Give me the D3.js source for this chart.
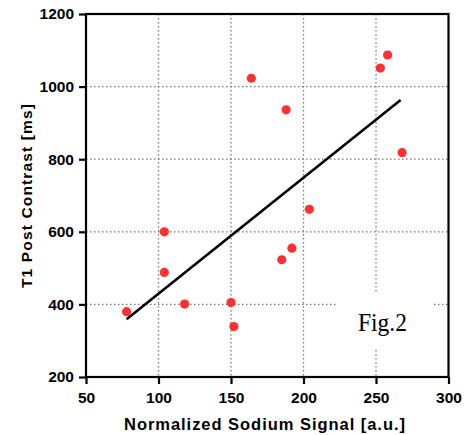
<!DOCTYPE html>
<html>
<head>
<meta charset="utf-8">
<script src="https://cdn.jsdelivr.net/npm/d3@7"></script>
<style>
  body { margin: 0; background: #fff; }
  svg { display: block; }
</style>
</head>
<body>
<div id="chart"></div>
<script>
// sodium signal vs T1 post contrast
const sodium = [78, 104, 104, 118, 150, 152, 164, 185, 188, 192, 204, 253, 258, 268];
const t1 = [380, 600, 488, 401, 405, 339, 1023, 523, 936, 555, 662, 1051, 1087, 818];
const fitX = [78, 267];
const fitY = [359, 963];
const xTicks = [50, 100, 150, 200, 250, 300];
const yTicks = [200, 400, 600, 800, 1000, 1200];

var width = 474
var height = 435

var svg = d3.select("#chart")
  .append("svg")
    .attr("width", width)
    .attr("height", height)

var x = d3.scaleLinear().domain([50, 300]).range([86, 448.5]);
var y = d3.scaleLinear().domain([200, 1200]).range([377, 14]);

// grid
svg.append("g")
  .selectAll("line")
  .data(xTicks.slice(1, -1))
  .enter().append("line")
    .attr("x1", d => x(d)).attr("x2", d => x(d))
    .attr("y1", y(1200)).attr("y2", y(200))
    .attr("stroke", "#777")
    .attr("stroke-width", 1.3)
    .attr("stroke-dasharray", "1.5,2.5")

svg.append("g")
  .selectAll("line")
  .data(yTicks.slice(1, -1))
  .enter().append("line")
    .attr("x1", x(50)).attr("x2", x(300))
    .attr("y1", d => y(d)).attr("y2", d => y(d))
    .attr("stroke", "#777")
    .attr("stroke-width", 1.3)
    .attr("stroke-dasharray", "1.5,2.5")

// white box behind the figure label
svg.append("rect")
  .attr("x", 338).attr("y", 293)
  .attr("width", 96).attr("height", 55)
  .attr("fill", "#fff")

svg.append("text")
  .attr("x", 358).attr("y", 331)
  .attr("textLength", 49)
  .attr("lengthAdjust", "spacingAndGlyphs")
  .style("font-family", "'Liberation Serif', 'DejaVu Serif', serif")
  .style("font-size", "25px")
  .text("Fig.2")

// frame
svg.append("rect")
  .attr("x", x(50)).attr("y", y(1200))
  .attr("width", x(300) - x(50)).attr("height", y(200) - y(1200))
  .attr("fill", "none")
  .attr("stroke", "#000")
  .attr("stroke-width", 2.2)

var xAxis = svg.append("g")
  .attr("transform", "translate(0," + y(200) + ")")
  .call(d3.axisBottom(x).tickValues(xTicks).tickSize(7).tickPadding(8).tickFormat(d3.format("d")))
xAxis.select(".domain").remove()

var yAxis = svg.append("g")
  .attr("transform", "translate(" + x(50) + ",0)")
  .call(d3.axisLeft(y).tickValues(yTicks).tickSize(7).tickPadding(5).tickFormat(d3.format("d")))
yAxis.select(".domain").remove()

svg.selectAll(".tick line").attr("stroke-width", 2.2)
svg.selectAll(".tick text")
  .style("font-family", "'Liberation Sans', Arial, sans-serif")
  .style("font-weight", "bold")
  .style("font-size", "15.5px")
  .attr("fill", "#000")

// fit line
svg.append("line")
  .attr("x1", x(fitX[0])).attr("y1", y(fitY[0]))
  .attr("x2", x(fitX[1])).attr("y2", y(fitY[1]))
  .attr("stroke", "#000")
  .attr("stroke-width", 2.6)

// points
svg.append("g")
  .selectAll("circle")
  .data(sodium.map((d, i) => [d, t1[i]]))
  .enter().append("circle")
    .attr("cx", d => x(d[0]))
    .attr("cy", d => y(d[1]))
    .attr("r", 4.6)
    .attr("fill", "#ff3030")

// axis titles
svg.append("text")
  .attr("x", 124).attr("y", 430)
  .attr("textLength", 281)
  .attr("lengthAdjust", "spacing")
  .style("font-family", "'Liberation Sans', Arial, sans-serif")
  .style("font-weight", "bold")
  .style("font-size", "16.5px")
  .text("Normalized Sodium Signal [a.u.]")

svg.append("text")
  .attr("transform", "translate(32,196) rotate(-90)")
  .attr("text-anchor", "middle")
  .attr("textLength", 184)
  .attr("lengthAdjust", "spacing")
  .style("font-family", "'Liberation Sans', Arial, sans-serif")
  .style("font-weight", "bold")
  .style("font-size", "15.5px")
  .text("T1 Post Contrast [ms]")
</script>
</body>
</html>
